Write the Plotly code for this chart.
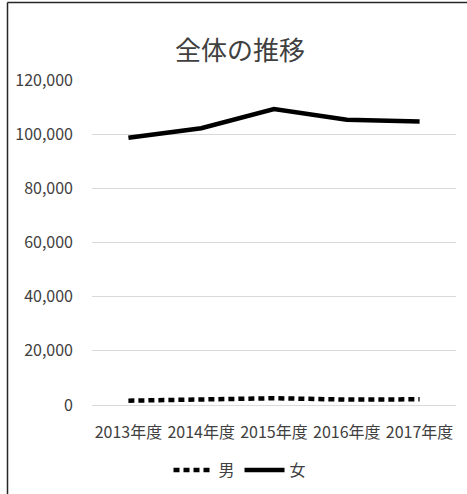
import plotly.graph_objects as go

categories = ["2013年度", "2014年度", "2015年度", "2016年度", "2017年度"]
male = [1600, 1900, 2500, 2000, 2100]
female = [98700, 102200, 109300, 105300, 104650]
y_ticks = [0, 20000, 40000, 60000, 80000, 100000, 120000]
y_tick_labels = ["0", "20,000", "40,000", "60,000", "80,000", "100,000", "120,000"]

W, H = 467, 494
L, R, T, B = 92, 11, 80, 89
pw, ph = W - L - R, H - T - B

def px_x(p):
    return (p - L) / pw

def px_y(p):
    return (H - B - p) / ph

FONT = "Noto Sans CJK JP, Noto Sans, sans-serif"
TXT = "#404040"

fig = go.Figure()
fig.add_trace(go.Scatter(x=categories, y=male, name="男", mode="lines",
                         line=dict(color="black", width=4.5, dash="6px,4px")))
fig.add_trace(go.Scatter(x=categories, y=female, name="女", mode="lines",
                         line=dict(color="black", width=4.5)))

fig.update_layout(
    width=W, height=H,
    margin=dict(l=L, r=R, t=T, b=B, autoexpand=False),
    paper_bgcolor="white", plot_bgcolor="white",
    font=dict(family=FONT, size=16, color=TXT),
    title=dict(text="全体の推移", x=240 / W, xanchor="center", y=1 - 51 / H, yanchor="middle",
               font=dict(family=FONT, size=26, color=TXT)),
    showlegend=True,
    legend=dict(orientation="h", xref="container", x=240 / W, xanchor="center",
                yref="container", y=1 - 470 / H, yanchor="middle",
                font=dict(family=FONT, size=16, color=TXT), itemwidth=40,
                bgcolor="rgba(0,0,0,0)"),
    xaxis=dict(showgrid=False, showline=True, linecolor="#d9d9d9", linewidth=1,
               range=[-0.5, 4.5], automargin=False,
               ticks="", tickfont=dict(size=16, color=TXT), ticklabelstandoff=13,
               fixedrange=True),
    yaxis=dict(range=[0, 120000], tickvals=y_ticks, ticktext=y_tick_labels,
               showgrid=True, gridcolor="#d9d9d9", gridwidth=1, zeroline=False,
               showline=False, ticks="", tickfont=dict(size=16, color=TXT),
               ticklabelstandoff=18, automargin=False, fixedrange=True),
)

# chart-area frame: only the left and top edges fall inside the picture
fig.add_shape(type="line", xref="paper", yref="paper",
              x0=px_x(7.5), x1=px_x(7.5), y0=px_y(2.5), y1=px_y(520),
              line=dict(color="#262626", width=1.5), layer="below")
fig.add_shape(type="line", xref="paper", yref="paper",
              x0=px_x(7.5), x1=px_x(500), y0=px_y(2.5), y1=px_y(2.5),
              line=dict(color="#262626", width=1.5), layer="below")

page_css = ("document.body.style.margin='0';"
            "document.body.style.overflow='hidden';"
            "document.documentElement.style.overflow='hidden';")

fig.write_html("out.html", post_script=page_css,
               config={"responsive": False, "displayModeBar": False})
